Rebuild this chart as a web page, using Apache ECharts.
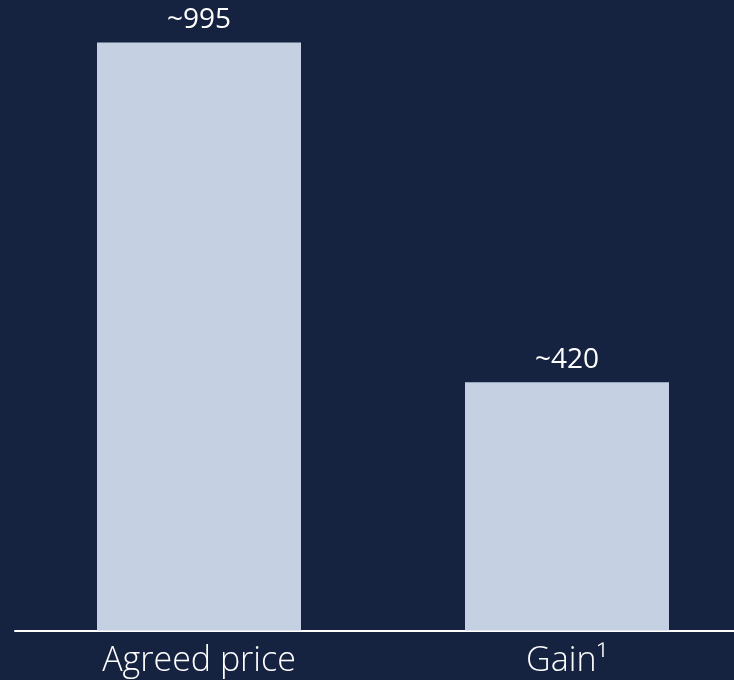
<!DOCTYPE html>
<html>
<head>
<meta charset="utf-8">
<script src="https://cdn.jsdelivr.net/npm/echarts@6/dist/echarts.min.js"></script>
<style>
  html, body { margin: 0; padding: 0; background: #152240; }
  #chart { width: 734px; height: 680px; }
</style>
</head>
<body>
<div id="chart"></div>
<script>
// Chart data
const categories = ['Agreed price', 'Gain¹'];
const values = [995, 420];
const valueLabels = ['~995', '~420'];

const chart = echarts.init(document.getElementById('chart'), null, { renderer: 'canvas' });

chart.setOption({
  backgroundColor: '#152240',
  animation: false,
  grid: {
    left: 15, top: 39.5, width: 736, height: 591,
    containLabel: false,
    outerBoundsMode: 'none'
  },
  xAxis: {
    type: 'category',
    data: categories,
    axisLine: { show: true, lineStyle: { color: '#ffffff', width: 2 } },
    axisTick: { show: false },
    axisLabel: {
      color: '#ffffff',
      fontFamily: 'Open Sans',
      fontWeight: 300,
      fontSize: 34,
      margin: 14
    }
  },
  yAxis: {
    type: 'value',
    min: 0,
    max: 1000,
    show: false,
    splitLine: { show: false }
  },
  series: [{
    type: 'bar',
    data: values,
    barWidth: 204,
    itemStyle: { color: '#c5d0e2' },
    label: {
      show: true,
      position: 'top',
      distance: 8,
      color: '#ffffff',
      fontFamily: 'Open Sans',
      fontSize: 28,
      formatter: p => valueLabels[p.dataIndex]
    }
  }]
});
</script>
</body>
</html>
